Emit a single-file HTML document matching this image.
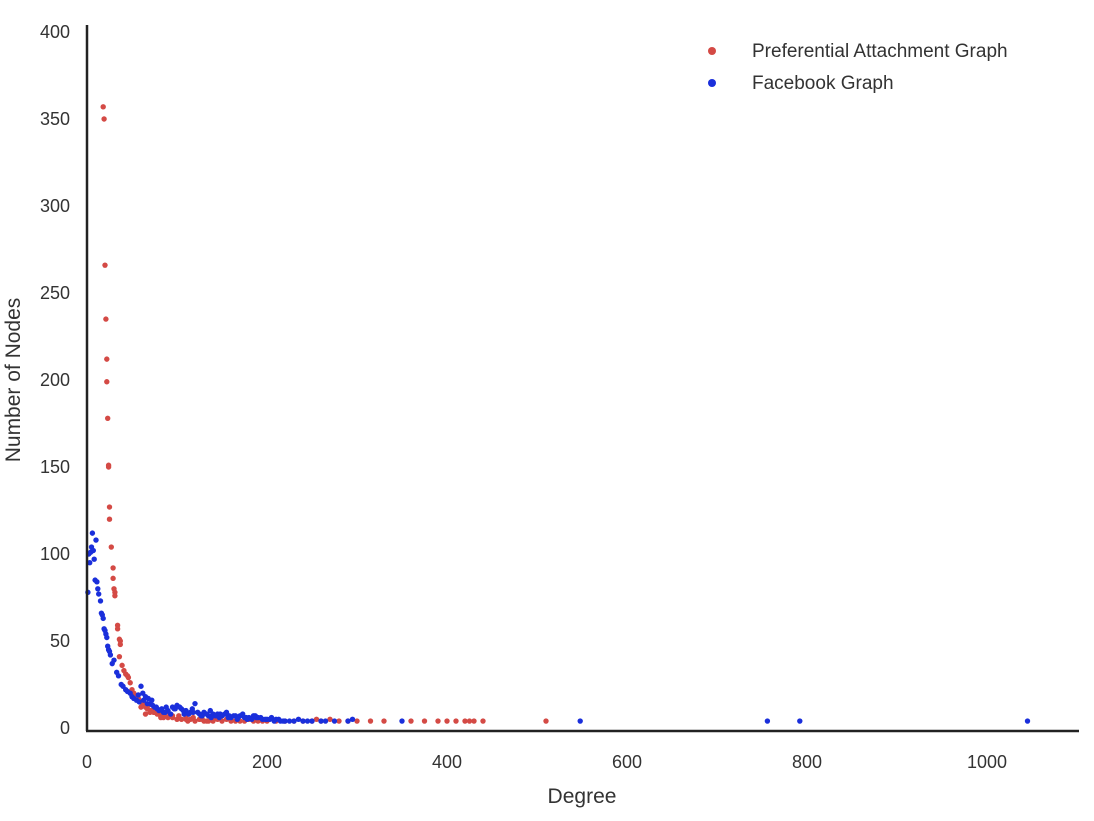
<!DOCTYPE html>
<html><head><meta charset="utf-8"><style>
body{margin:0;background:#fff}
svg text{font-family:"Liberation Sans",sans-serif;fill:#333}
</style></head><body>
<svg id="chart" width="1094" height="816" xmlns="http://www.w3.org/2000/svg">
<g id="marks"></g>
<line x1="87" y1="25" x2="87" y2="731" stroke="#222" stroke-width="2.5"/>
<line x1="86" y1="731" x2="1079" y2="731" stroke="#222" stroke-width="2.5"/>
<g id="ticks"></g>
<text x="582" y="803" font-size="21" text-anchor="middle">Degree</text>
<text transform="translate(20,380) rotate(-90)" font-size="21" text-anchor="middle">Number of Nodes</text>
<g>
<circle cx="712" cy="51" r="4" fill="#d44a45"/>
<text x="752" y="57" font-size="19">Preferential Attachment Graph</text>
<circle cx="712" cy="83" r="4" fill="#1a2fdb"/>
<text x="752" y="89" font-size="19">Facebook Graph</text>
</g>
</svg>
<script>
const xTicks=[0,200,400,600,800,1000];
const yTicks=[0,50,100,150,200,250,300,350,400];
const paDegree=[18,19,20,21,22,22,23,24,24,25,25,27,29,29,30,31,31,34,34,36,37,37,36,39,41,43,45,46,48,50,52,55,57,58,60,62,64,65,67,70,72,75,78,80,83,86,90,95,100,105,110,115,120,125,130,135,140,150,160,170,185,200,220,240,255,260,270,280,290,300,315,330,360,375,390,400,410,420,425,430,440,510,65,70,85,95,110,125,140,160,60,68,74,82,92,102,112,118,128,133,145,155,165,175,180,190,195,210,230,250];
const paCount=[357,350,266,235,212,199,178,151,150,127,120,104,92,86,80,78,76,59,57,51,50,48,41,36,33,31,30,29,26,22,20,18,17,16,15,14,13,12,11,10,10,9,8,8,7,7,6,6,5,5,5,5,4,5,4,4,4,4,4,4,4,4,4,4,5,4,5,4,4,4,4,4,4,4,4,4,4,4,4,4,4,4,8,9,6,7,6,5,6,5,12,13,9,6,8,7,4,6,5,4,5,5,4,4,5,4,4,4,4,4];
const fbDegree=[1,2,3,4,5,6,7,8,10,9,11,12,13,15,16,17,18,19,20,21,22,23,24,25,26,28,30,33,35,38,40,43,45,48,50,52,55,58,60,62,65,68,70,72,75,78,80,85,90,95,100,105,110,115,120,125,130,135,140,145,150,155,160,165,170,175,180,185,190,195,200,205,210,215,220,225,230,240,250,260,290,295,350,548,756,792,1045,88,98,108,118,128,138,148,158,168,178,188,198,208,57,63,67,73,77,83,87,93,97,103,107,113,117,123,127,133,137,143,147,153,157,163,167,173,177,183,187,193,203,213,218,235,245,265,275];
const fbCount=[78,100,95,101,104,112,102,97,108,85,84,80,77,73,66,65,63,57,56,54,52,47,45,44,42,37,39,32,30,25,24,22,21,20,18,17,16,15,24,20,18,17,14,16,12,11,10,9,10,12,13,11,10,9,14,8,9,7,8,8,7,9,6,7,7,6,6,7,6,5,5,6,5,4,4,4,4,4,4,4,4,5,4,4,4,4,4,12,11,8,9,7,6,8,7,6,5,6,5,4,19,16,14,13,12,11,9,8,11,12,10,8,11,9,7,8,10,7,6,8,6,7,5,8,6,5,7,6,5,5,4,5,4,4,4];
const NS='http://www.w3.org/2000/svg';
const xs=v=>87+v*0.9, ys=v=>728-v*1.74;
const marks=document.getElementById('marks'), ticks=document.getElementById('ticks');
function dot(x,y,c){const e=document.createElementNS(NS,'circle');
e.setAttribute('cx',xs(x));e.setAttribute('cy',ys(y));e.setAttribute('r',2.7);e.setAttribute('fill',c);


marks.appendChild(e);}
paDegree.forEach((d,i)=>dot(d,paCount[i],'#d44a45'));
fbDegree.forEach((d,i)=>dot(d,fbCount[i],'#1a2fdb'));
xTicks.forEach(t=>{const e=document.createElementNS(NS,'text');e.setAttribute('x',xs(t));e.setAttribute('y',768);e.setAttribute('font-size',18);e.setAttribute('text-anchor','middle');e.textContent=t;


ticks.appendChild(e);});
yTicks.forEach(t=>{const e=document.createElementNS(NS,'text');e.setAttribute('x',70);e.setAttribute('y',ys(t)+6);e.setAttribute('font-size',18);e.setAttribute('text-anchor','end');e.textContent=t;


ticks.appendChild(e);});
</script>
</body></html>
